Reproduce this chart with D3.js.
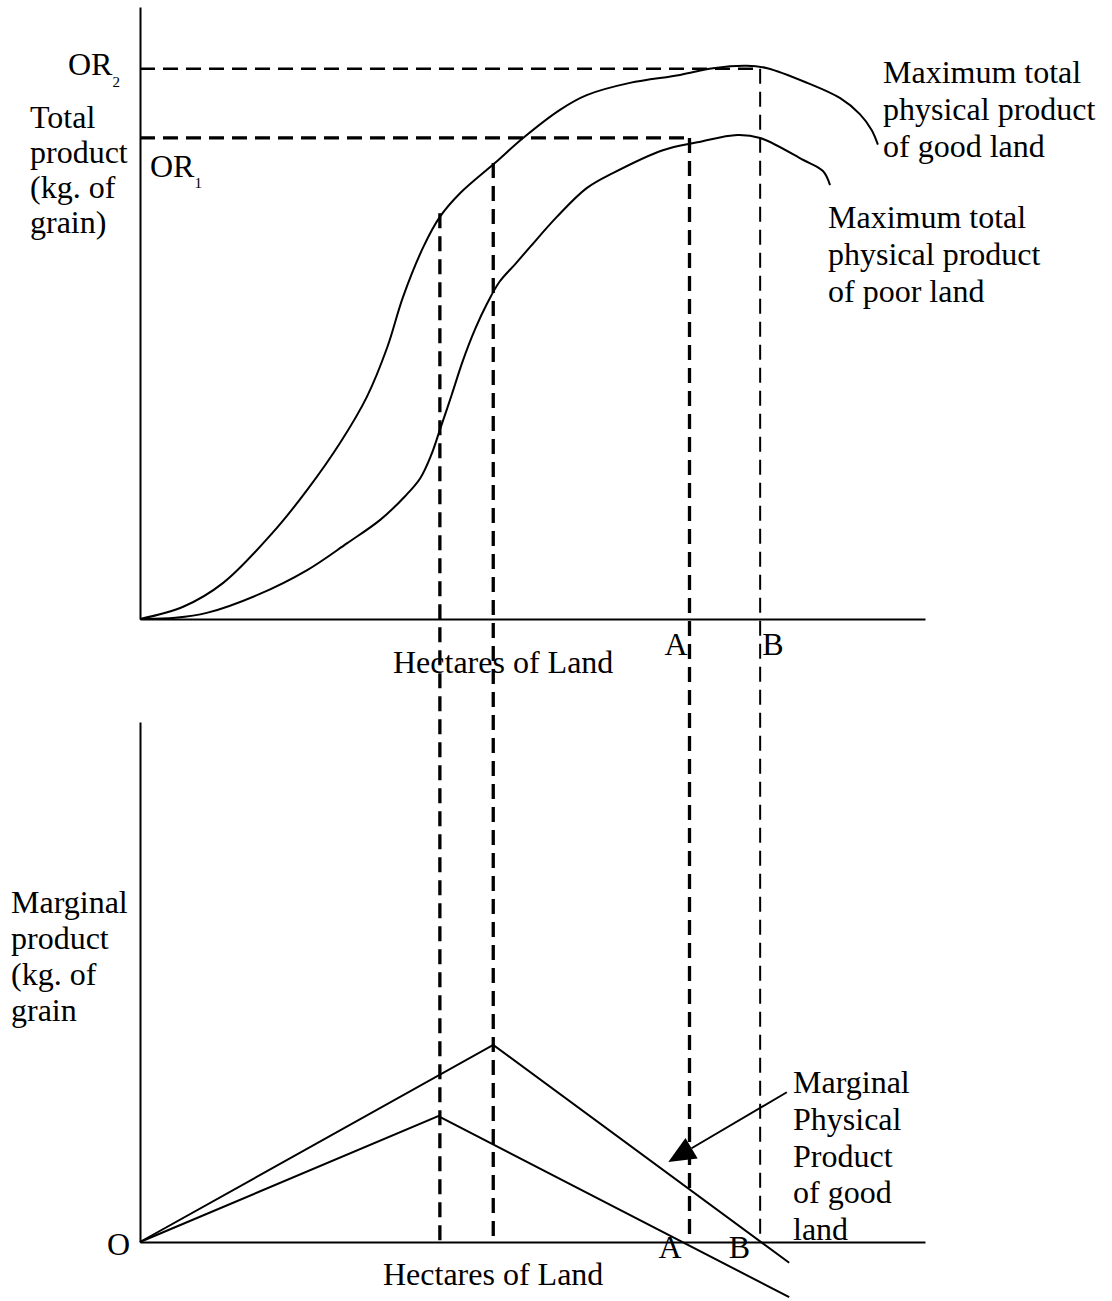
<!DOCTYPE html>
<html>
<head>
<meta charset="utf-8">
<script src="https://cdn.jsdelivr.net/npm/d3@7"></script>
<style>
  body { margin: 0; background: #fff; }
  text { font-family: 'Liberation Serif', 'Times New Roman', serif; font-size: 32px; fill: #000; }
  .curve { fill: none; stroke: #000; stroke-width: 2; }
</style>
</head>
<body>
<svg width="1112" height="1301"></svg>
<script>
// total product curves (hectares 0-100, product 0-100)
const goodX = [0, 5.5, 10.6, 16.9, 21.3, 25.5, 28.9, 31.5, 33.5, 36.1, 38.2, 40.8, 45.2, 48.8, 53.5, 56.9, 62.4, 68.8, 73.0, 77.3, 79.9, 85.0, 89.2, 91.7, 93.2, 94.0];
const goodTP = [0, 2.0, 5.9, 14.1, 21.1, 28.8, 36.3, 44.4, 52.6, 60.8, 65.7, 69.6, 74.5, 78.6, 83.2, 85.6, 87.6, 88.9, 90.0, 90.4, 90.0, 87.6, 85.1, 82.5, 79.9, 77.5];
const poorX = [0.6, 4.5, 8.5, 14.9, 21.3, 26.4, 30.6, 33.8, 35.7, 37.1, 38.2, 39.7, 41.1, 42.7, 44.2, 45.8, 47.8, 49.7, 53.1, 56.9, 60.3, 66.6, 71.0, 76.1, 79.0, 84.5, 87.0, 87.9];
const poorTP = [0, 0.2, 1.0, 3.9, 8.0, 12.4, 16.2, 20.1, 23.0, 26.8, 30.9, 36.6, 42.1, 47.4, 51.5, 55.1, 58.0, 60.8, 65.7, 70.4, 72.9, 76.6, 77.9, 79.1, 78.6, 75.0, 73.2, 70.9];

// marginal product lines
const goodMpX = [0, 45, 82.7];
const goodMP = [0, 37.9, -4.0];
const poorMpX = [0, 38, 82.7];
const poorMP = [0, 24.2, -10.6];

// reference levels and drop lines
const orLevel = [78.6, 89.9];   // OR1, OR2
const orEnd = [70, 79];         // A, B
const dropX = [38.2, 45, 70, 79];
const dropFrom = [66.3, 74.5, 78.6, 89.9];

const tpLabel = ['Total', 'product', '(kg. of', 'grain)'];
const mpLabel = ['Marginal', 'product', '(kg. of', 'grain'];
const goodNote = ['Maximum total', 'physical product', 'of good land'];
const poorNote = ['Maximum total', 'physical product', 'of poor land'];
const mppNote = ['Marginal', 'Physical', 'Product', 'of good', 'land'];
const xTitle = 'Hectares of Land';

const svg = d3.select('svg');
const x = d3.scaleLinear().domain([0, 100]).range([140, 925]);
const yTop = d3.scaleLinear().domain([0, 100]).range([619, 7]);
const yBot = d3.scaleLinear().domain([0, 100]).range([1242, 722]);

// axes without ticks
[yTop, yBot].forEach((y) => {
  svg.append('g')
    .attr('transform', `translate(0,${y(0)})`)
    .call(d3.axisBottom(x).tickValues([]).tickSizeOuter(0))
    .select('.domain').attr('stroke-width', 2);
  svg.append('g')
    .attr('transform', `translate(${x(0)},0)`)
    .call(d3.axisLeft(y).tickValues([]).tickSizeOuter(0))
    .select('.domain').attr('stroke-width', 2);
});

// dashed lines
const dashes = svg.append('g').attr('stroke', '#000').attr('stroke-dasharray', '15,8');
dashes.selectAll('.or')
  .data(orLevel)
  .enter().append('line')
  .attr('x1', x(0)).attr('x2', (d, i) => x(orEnd[i]))
  .attr('y1', d => yTop(d)).attr('y2', d => yTop(d))
  .attr('stroke-width', (d, i) => (i === 0 ? 3.3 : 2.5));
dashes.selectAll('.drop')
  .data(dropX)
  .enter().append('line')
  .attr('x1', d => x(d)).attr('x2', d => x(d))
  .attr('y1', (d, i) => yTop(dropFrom[i])).attr('y2', yBot(0))
  .attr('stroke-width', (d, i) => (i === 3 ? 2 : 3.3));

// total product curves
const tpLine = d3.line()
  .x(d => x(d[0])).y(d => yTop(d[1]))
  .curve(d3.curveCatmullRom.alpha(0.5));
svg.append('path').attr('class', 'curve').attr('d', tpLine(d3.zip(goodX, goodTP)));
svg.append('path').attr('class', 'curve').attr('d', tpLine(d3.zip(poorX, poorTP)));

// marginal product lines
const mpLine = d3.line().x(d => x(d[0])).y(d => yBot(d[1]));
svg.append('path').attr('class', 'curve').attr('d', mpLine(d3.zip(goodMpX, goodMP)));
svg.append('path').attr('class', 'curve').attr('d', mpLine(d3.zip(poorMpX, poorMP)));

// arrow to marginal product of good land
const from = [x(82.4), yBot(28.8)];
const tip = [x(67.3), yBot(15.4)];
const len = Math.hypot(tip[0] - from[0], tip[1] - from[1]);
const ux = (tip[0] - from[0]) / len;
const uy = (tip[1] - from[1]) / len;
const base = [tip[0] - ux * 27, tip[1] - uy * 27];
svg.append('line')
  .attr('x1', from[0]).attr('y1', from[1])
  .attr('x2', base[0]).attr('y2', base[1])
  .attr('stroke', '#000').attr('stroke-width', 2);
svg.append('polygon')
  .attr('points', [tip, [base[0] - uy * 12, base[1] + ux * 12], [base[0] + uy * 12, base[1] - ux * 12]].join(' '))
  .attr('fill', '#000');

// multi-line text helper
function block(lines, x0, y0, step) {
  const t = svg.append('text');
  lines.forEach((s, i) => t.append('tspan').attr('x', x0).attr('y', y0 + i * step).text(s));
}

block(tpLabel, 30, 128, 35);
block(mpLabel, 11, 913, 36);
block(goodNote, 883, 83, 37);
block(poorNote, 828, 228, 37);
block(mppNote, 793, 1093, 36.75);

// OR labels with subscripts
const or2 = svg.append('text').attr('x', 68).attr('y', 75).text('OR');
or2.append('tspan').attr('font-size', 15).attr('dy', 12).text('2');
const or1 = svg.append('text').attr('x', 150).attr('y', 177).text('OR');
or1.append('tspan').attr('font-size', 15).attr('dy', 11).text('1');

// axis titles and points
svg.append('text').attr('x', 393).attr('y', 673).text(xTitle);
svg.append('text').attr('x', 383).attr('y', 1285).text(xTitle);
svg.append('text').attr('x', x(orEnd[0]) - 2).attr('y', 655).attr('text-anchor', 'end').text('A');
svg.append('text').attr('x', x(orEnd[1]) + 2).attr('y', 655).text('B');
svg.append('text').attr('x', x(orEnd[0]) - 8).attr('y', 1258).attr('text-anchor', 'end').text('A');
svg.append('text').attr('x', x(orEnd[1]) - 10).attr('y', 1258).attr('text-anchor', 'end').text('B');
svg.append('text').attr('x', 107).attr('y', 1255).text('O');
</script>
</body>
</html>
